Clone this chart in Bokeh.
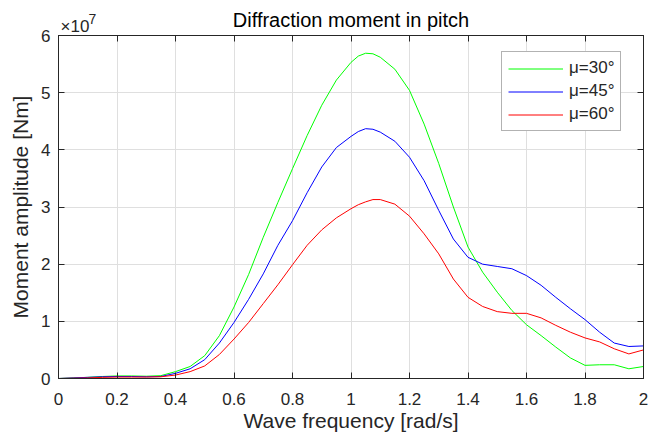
from bokeh.plotting import figure
from bokeh.layouts import column
from bokeh.models import (Range1d, FixedTicker, LinearAxis, Label, Legend, LegendItem,
                          CustomJSTickFormatter, ColumnDataSource)
from bokeh.embed import file_html
from bokeh.resources import INLINE

# Wave frequency [rad/s]
freq = [0.00, 0.05, 0.10, 0.15, 0.20, 0.25, 0.30, 0.35, 0.40, 0.45,
        0.50, 0.55, 0.60, 0.65, 0.70, 0.75, 0.80, 0.85, 0.90, 0.95,
        1.00, 1.025, 1.05, 1.075, 1.10, 1.15, 1.20, 1.25, 1.30, 1.35, 1.40, 1.45,
        1.50, 1.55, 1.60, 1.65, 1.70, 1.75, 1.80, 1.85, 1.90, 1.95, 2.00]

# Moment amplitude, in units of 1e7 Nm
mu30 = [0.000, 0.010, 0.020, 0.035, 0.045, 0.045, 0.040, 0.050, 0.120, 0.210,
        0.400, 0.750, 1.250, 1.820, 2.470, 3.080, 3.670, 4.250, 4.780, 5.220,
        5.530, 5.640, 5.690, 5.680, 5.620, 5.410, 5.040, 4.450, 3.760, 3.000, 2.300, 1.860,
        1.510, 1.190, 0.940, 0.750, 0.550, 0.360, 0.230, 0.240, 0.240, 0.170, 0.210]

mu45 = [0.000, 0.010, 0.020, 0.030, 0.035, 0.035, 0.030, 0.035, 0.090, 0.170,
        0.330, 0.620, 0.980, 1.385, 1.830, 2.330, 2.760, 3.250, 3.700, 4.040,
        4.235, 4.320, 4.370, 4.360, 4.310, 4.150, 3.870, 3.460, 2.940, 2.440, 2.120, 2.000,
        1.960, 1.920, 1.800, 1.630, 1.420, 1.220, 1.030, 0.810, 0.620, 0.560, 0.570]

mu60 = [0.000, 0.005, 0.010, 0.020, 0.025, 0.025, 0.025, 0.030, 0.060, 0.120,
        0.220, 0.420, 0.690, 0.980, 1.310, 1.640, 1.990, 2.330, 2.600, 2.810,
        2.970, 3.040, 3.090, 3.130, 3.130, 3.050, 2.840, 2.530, 2.180, 1.740, 1.420, 1.260,
        1.170, 1.140, 1.140, 1.060, 0.930, 0.810, 0.710, 0.640, 0.520, 0.430, 0.500]

series_labels = ["μ=30°", "μ=45°", "μ=60°"]
series_colors = ["#00ff00", "#0000ff", "#ff0000"]

x_ticks = [0, 0.2, 0.4, 0.6, 0.8, 1.0, 1.2, 1.4, 1.6, 1.8, 2.0]
y_ticks = [0, 1, 2, 3, 4, 5, 6]

title_text = "Diffraction moment in pitch"
exp_base = "×10"
exp_power = "7"

FONT = "Liberation Sans"
AX = "#262626"

x_range = Range1d(0, 2)

# ---- main plot (full page height; its top border is transparent) ----
p = figure(width=649, height=440, output_backend="svg", toolbar_location=None,
           x_range=x_range, y_range=Range1d(0, 6),
           min_border_left=58, min_border_right=6, min_border_top=35, min_border_bottom=62,
           outline_line_color=AX, outline_line_width=1)
p.background_fill_color = "white"
p.border_fill_color = None

src = ColumnDataSource(dict(freq=freq, mu30=mu30, mu45=mu45, mu60=mu60))
renderers = []
for col, color in zip(["mu30", "mu45", "mu60"], series_colors):
    r = p.line("freq", col, source=src, line_color=color, line_width=1)
    renderers.append(r)

xfmt = CustomJSTickFormatter(code="return Number(tick.toFixed(1)).toString();")
for ax in p.xaxis:
    ax.ticker = FixedTicker(ticks=x_ticks)
    ax.formatter = xfmt
    ax.axis_label = "Wave frequency [rad/s]"
    ax.axis_label_standoff = 1
    ax.major_label_standoff = 14
for ax in p.yaxis:
    ax.ticker = FixedTicker(ticks=y_ticks)
    ax.axis_label = "Moment amplitude [Nm]"
    ax.axis_label_standoff = 6
    ax.major_label_standoff = 8
for ax in list(p.xaxis) + list(p.yaxis):
    ax.axis_label_text_font = FONT
    ax.axis_label_text_font_size = "21px"
    ax.axis_label_text_font_style = "normal"
    ax.axis_label_text_color = AX
    ax.major_label_text_font = FONT
    ax.major_label_text_font_size = "17px"
    ax.major_label_text_color = AX
    ax.axis_line_color = AX
    ax.major_tick_line_color = AX
    ax.major_tick_in = 6
    ax.major_tick_out = 0
    ax.minor_tick_line_color = None

blank = CustomJSTickFormatter(code="return '';")
top = LinearAxis(ticker=FixedTicker(ticks=x_ticks), formatter=blank,
                 major_label_text_font_size="1px", major_label_standoff=0,
                 axis_label_standoff=0,
                 major_tick_in=6, major_tick_out=0, minor_tick_line_color=None,
                 axis_line_color=AX, major_tick_line_color=AX)
right = LinearAxis(ticker=FixedTicker(ticks=y_ticks), formatter=blank,
                   major_label_text_font_size="1px", major_label_standoff=0,
                   axis_label_standoff=0,
                   major_tick_in=6, major_tick_out=0, minor_tick_line_color=None,
                   axis_line_color=AX, major_tick_line_color=AX)
p.add_layout(top, "above")
p.add_layout(right, "right")

p.xgrid.grid_line_color = "#dfdfdf"
p.ygrid.grid_line_color = "#dfdfdf"
p.xgrid.ticker = FixedTicker(ticks=x_ticks)
p.ygrid.ticker = FixedTicker(ticks=y_ticks)

legend = Legend(items=[LegendItem(label=l, renderers=[r]) for l, r in zip(series_labels, renderers)],
                location=(443, 247), padding=6, spacing=3, glyph_width=55, glyph_height=17,
                label_height=17, label_width=30, label_standoff=6, margin=0,
                label_text_font=FONT, label_text_font_size="17px", label_text_color=AX,
                border_line_color="#666666", border_line_width=1,
                background_fill_color="white", background_fill_alpha=1)
p.add_layout(legend, "center")

# ---- header strip (title and axis exponent), sharing the x range ----
# It is pulled under the transparent top border of the main plot by a negative margin.
# y range is flipped so that y counts pixels down from the top of the strip.
HEAD_H = 40
head = figure(width=649, height=HEAD_H, output_backend="svg", toolbar_location=None,
              x_range=x_range, y_range=Range1d(HEAD_H, 0),
              min_border_left=58, min_border_right=6, min_border_top=0, min_border_bottom=0,
              x_axis_location=None, y_axis_location=None, outline_line_color=None,
              margin=(0, 0, -HEAD_H, 0))
head.grid.grid_line_color = None
head.background_fill_color = "white"
head.border_fill_color = "white"
head.add_layout(Label(x=1, y=19.5, text=title_text, text_align="center",
                      text_baseline="middle", text_font=FONT, text_font_size="20px",
                      text_color="black"))
head.add_layout(Label(x=0, y=26, x_offset=2, text=exp_base, text_align="left",
                      text_baseline="middle", text_font=FONT, text_font_size="17px",
                      text_color=AX))
head.add_layout(Label(x=0, y=18.5, x_offset=30, text=exp_power, text_align="left",
                      text_baseline="middle", text_font=FONT, text_font_size="14px",
                      text_color=AX))

layout = column(head, p, spacing=0)
open("out.html", "w").write(file_html(layout, INLINE))
